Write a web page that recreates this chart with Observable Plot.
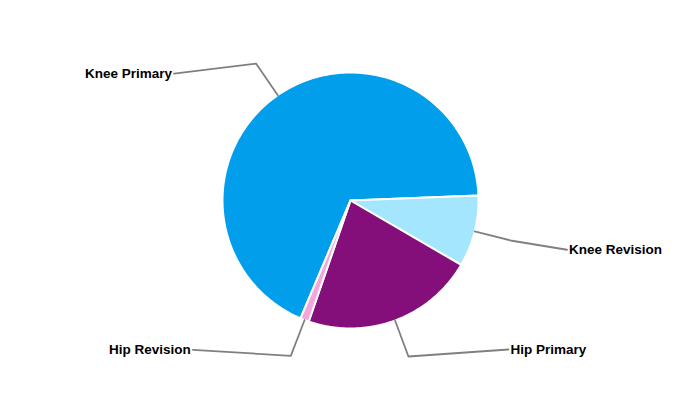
<!DOCTYPE html>
<html>
<head>
<meta charset="utf-8">
<script src="https://cdn.jsdelivr.net/npm/d3@7"></script>
<script src="https://cdn.jsdelivr.net/npm/@observablehq/plot@0.6"></script>
<style>
  html, body { margin: 0; padding: 0; background: #fff; }
  #chart { width: 700px; height: 400px; }
</style>
</head>
<body>
<div id="chart"></div>
<script>
// Data
const categories = ["Knee Primary", "Knee Revision", "Hip Primary", "Hip Revision"];
const values = [68.0, 9.0, 21.9, 1.1];
const colors = ["#009EEB", "#A5E6FF", "#850F7A", "#F4A6DA"];

// Layout (not data)
const W = 700, H = 400;
const R = 128;
const startAngle = 203 * Math.PI / 180; // clock angle of first slice start
const elbowFactor = 1.3;
const legs = [[-82, 10], [55, 9], [100, -7], [-98, -6]];

const total = d3.sum(values);
let acc = startAngle;
const slices = categories.map((c, i) => {
  const a0 = acc;
  const a1 = acc + values[i] / total * 2 * Math.PI;
  acc = a1;
  return {name: c, a0, a1, mid: (a0 + a1) / 2, i};
});

const px = (a, r) => r * Math.sin(a);
const py = (a, r) => -r * Math.cos(a);

const slicePts = [];
for (const s of slices) {
  slicePts.push({name: s.name, x: 0, y: 0});
  const n = Math.max(2, Math.ceil((s.a1 - s.a0) / (Math.PI / 180)));
  for (let k = 0; k <= n; k++) {
    const a = s.a0 + (s.a1 - s.a0) * k / n;
    slicePts.push({name: s.name, x: px(a, R), y: py(a, R)});
  }
  slicePts.push({name: s.name, x: 0, y: 0});
}

const leaderPts = [];
const labels = [];
for (const s of slices) {
  const ex = px(s.mid, R * elbowFactor), ey = py(s.mid, R * elbowFactor);
  const [lx, ly] = legs[s.i];
  leaderPts.push({name: s.name, x: px(s.mid, R), y: py(s.mid, R)});
  leaderPts.push({name: s.name, x: ex, y: ey});
  leaderPts.push({name: s.name, x: ex + lx, y: ey + ly});
  labels.push({name: s.name, x: ex + lx, y: ey + ly, right: lx > 0});
}

const chart = Plot.plot({
  width: W, height: H,
  margin: 0,
  x: {domain: [-W / 2, W / 2], range: [0, W], axis: null},
  y: {domain: [-H / 2, H / 2], range: [0, H], axis: null},
  color: {domain: categories, range: colors},
  style: {fontFamily: "Liberation Sans, Arial, sans-serif", background: "#fff"},
  marks: [
    Plot.line(slicePts, {x: "x", y: "y", z: "name", fill: "name", stroke: "white", strokeWidth: 2, strokeLinejoin: "round"}),
    Plot.line(leaderPts, {x: "x", y: "y", z: "name", stroke: "#808080", strokeWidth: 1.8}),
    Plot.text(labels.filter(d => d.right), {x: "x", y: "y", text: "name", textAnchor: "start", dx: 2, fontSize: 13.5, fontWeight: "bold", fill: "#000"}),
    Plot.text(labels.filter(d => !d.right), {x: "x", y: "y", text: "name", textAnchor: "end", dx: -2, fontSize: 13.5, fontWeight: "bold", fill: "#000"})
  ]
});
document.getElementById("chart").appendChild(chart);
</script>
</body>
</html>
